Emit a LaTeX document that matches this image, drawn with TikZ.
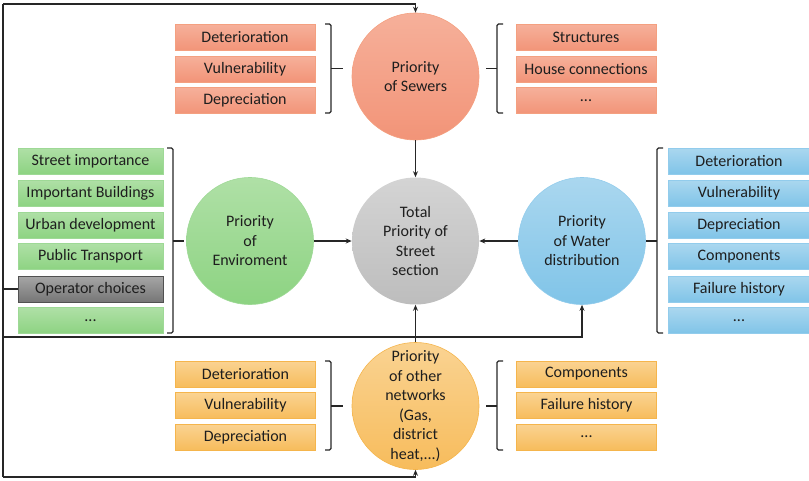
\documentclass[tikz,border=0pt]{standalone}
\usepackage{fontspec}
\setmainfont{Carlito}
\usetikzlibrary{arrows.meta}
\definecolor{sewT}{HTML}{F6B09A}
\definecolor{sewB}{HTML}{F29478}
\definecolor{sewD}{HTML}{F4A080}
\definecolor{grnT}{HTML}{AFE0A6}
\definecolor{grnB}{HTML}{8DD382}
\definecolor{grnD}{HTML}{9ED996}
\definecolor{bluT}{HTML}{AAD7EF}
\definecolor{bluB}{HTML}{80C4E8}
\definecolor{bluD}{HTML}{92CCEC}
\definecolor{orgT}{HTML}{FAD392}
\definecolor{orgB}{HTML}{F7BC5C}
\definecolor{orgD}{HTML}{F5B54C}
\definecolor{gryT}{HTML}{D4D4D4}
\definecolor{gryB}{HTML}{BDBDBD}
\definecolor{opT}{HTML}{A6A6A6}
\definecolor{opB}{HTML}{767676}
\definecolor{txt}{HTML}{1E1E1E}
\definecolor{ln}{HTML}{262626}
\begin{document}
\begin{tikzpicture}[x=1pt,y=-1pt,
  box/.style={rectangle, minimum height=26pt, inner sep=0pt, font=\fontsize{16}{18}\selectfont, text=txt, line width=0.6pt},
  sbox/.style={box, minimum width=140pt, top color=sewT, bottom color=sewB, draw=sewD},
  gbox/.style={box, minimum width=145pt, top color=grnT, bottom color=grnB, draw=grnD},
  bbox/.style={box, minimum width=142pt, top color=bluT, bottom color=bluB, draw=bluD},
  obox/.style={box, minimum width=140pt, top color=orgT, bottom color=orgB, draw=orgD},
  circ/.style={circle, minimum size=127pt, inner sep=0pt, align=center, font=\fontsize{16}{19.5}\selectfont, text=txt, line width=0.6pt},
  lin/.style={draw=ln, line width=1.1pt},
  arr/.style={lin, -{Stealth[length=6pt,width=5pt]}},
  brk/.style={draw=ln, line width=1.1pt, rounded corners=1.5pt}
]
\useasboundingbox (0,0) rectangle (809,480);

% circles
\node[circ, top color=sewT, bottom color=sewB, draw=sewD] (sew) at (415.5,76.5) {Priority\\of Sewers};
\node[circ, top color=gryT, bottom color=gryB] (tot) at (415.5,241) {Total\\Priority of\\Street\\section};
\node[circ, top color=grnT, bottom color=grnB, draw=grnD] (env) at (250,241) {Priority\\of\\Enviroment};
\node[circ, top color=bluT, bottom color=bluB, draw=bluD] (wat) at (582,241) {Priority\\of Water\\distribution};
\node[circ, top color=orgT, bottom color=orgB, draw=orgD] (oth) at (415.5,406) {Priority\\of other\\networks\\(Gas,\\district\\heat,...)};

% sewer boxes
\node[sbox] (s1) at (245,37.5) {Deterioration};
\node[sbox] (s2) at (245,69) {Vulnerability};
\node[sbox] (s3) at (245,100.5) {Depreciation};
\node[sbox] (s4) at (586,37.5) {Structures};
\node[sbox] (s5) at (586,69) {House connections};
\node[sbox] (s6) at (586,100.5) {...};

% green boxes
\node[gbox] (g1) at (90.5,161) {Street importance};
\node[gbox] (g2) at (90.5,193) {Important Buildings};
\node[gbox] (g3) at (90.5,225) {Urban development};
\node[gbox] (g4) at (90.5,256.5) {Public Transport};
\node[box, minimum width=145pt, top color=opT, bottom color=opB, draw=ln!80] (op) at (90.5,289) {Operator choices};
\node[gbox] (g6) at (90.5,320.5) {...};

% blue boxes
\node[bbox] (b1) at (739,161) {Deterioration};
\node[bbox] (b2) at (739,193) {Vulnerability};
\node[bbox] (b3) at (739,225) {Depreciation};
\node[bbox] (b4) at (739,256.5) {Components};
\node[bbox] (b5) at (739,289) {Failure history};
\node[bbox] (b6) at (739,320.5) {...};

% orange boxes
\node[obox] (o1) at (245.5,374) {Deterioration};
\node[obox] (o2) at (245.5,405.5) {Vulnerability};
\node[obox] (o3) at (245.5,437) {Depreciation};
\node[obox] (o4) at (586.5,374) {Components};
\node[obox] (o5) at (586.5,405.5) {Failure history};
\node[obox] (o6) at (586.5,437) {...};

% brackets
\draw[brk] (325,24) -- (331,24) -- (331,113) -- (325,113);
\draw[brk] (331,68.5) -- (343,68.5);
\draw[brk] (503,24) -- (497,24) -- (497,113) -- (503,113);
\draw[brk] (497,68.5) -- (486,68.5);
\draw[brk] (167,148) -- (173,148) -- (173,333) -- (167,333);
\draw[brk] (173,241) -- (184,241);
\draw[brk] (663,148) -- (657,148) -- (657,333) -- (663,333);
\draw[brk] (657,241) -- (646,241);
\draw[brk] (325,361) -- (331,361) -- (331,450) -- (325,450);
\draw[brk] (331,406) -- (343,406);
\draw[brk] (503,361) -- (497,361) -- (497,450) -- (503,450);
\draw[brk] (497,406) -- (486,406);

% connectors
\coordinate (tl) at (3,4);
\coordinate (bl) at (3,477);
\coordinate (ml) at (3,337);
\draw[arr] (sew.south) -- (tot.north);
\draw[arr] (env.east) -- (tot.west);
\draw[arr] (wat.west) -- (tot.east);
\draw[arr] (oth.north) -- (tot.south);
\draw[lin] (tl) -- (bl);
\draw[arr] (tl) -| (sew.north);
\draw[arr] (bl) -| (oth.south);
\draw[lin] (op.west) -- (op.west -| tl);
\draw[arr] (ml) -| (wat.south);
\end{tikzpicture}
\end{document}
